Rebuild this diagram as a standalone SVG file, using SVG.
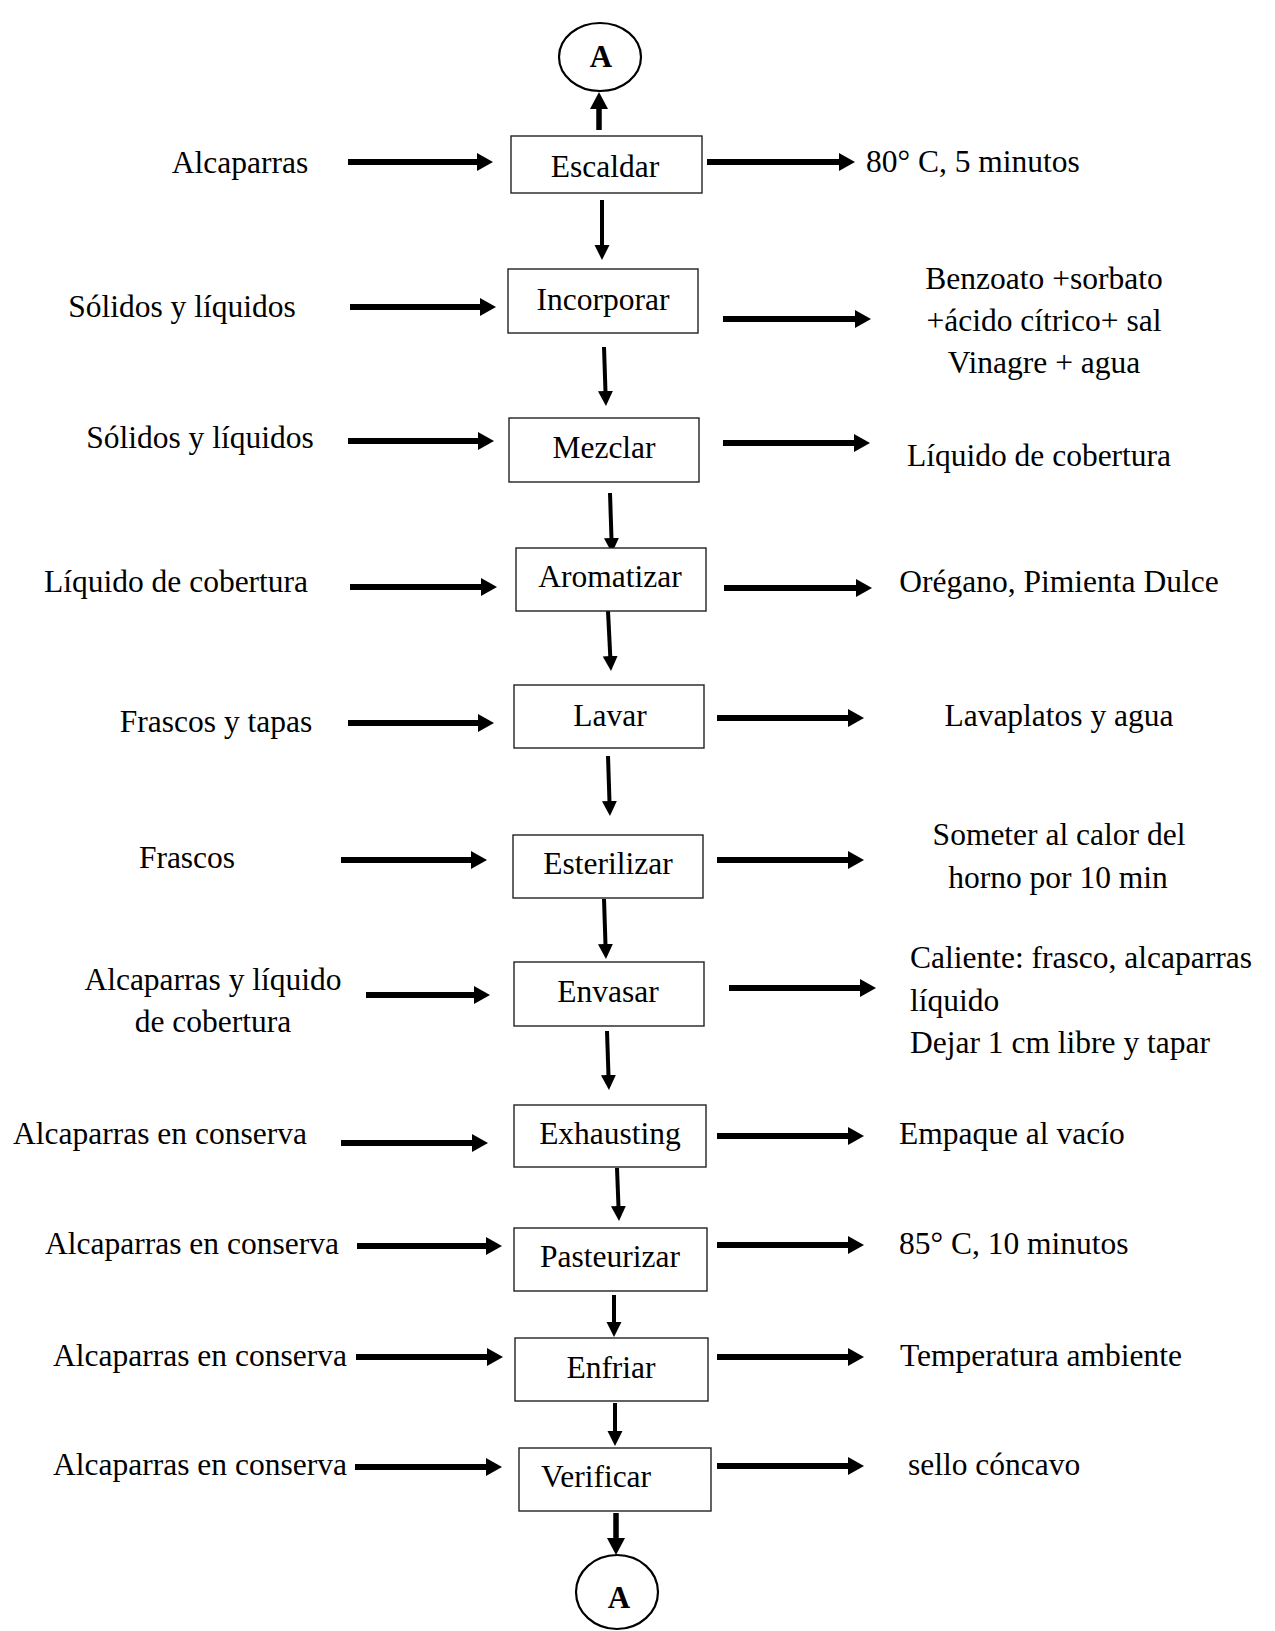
<svg xmlns="http://www.w3.org/2000/svg" width="1275" height="1631" viewBox="0 0 1275 1631">
<defs>
<style>
text{font-family:"Liberation Serif","Times New Roman",serif;font-size:31.5px;fill:#000}
.m{text-anchor:middle}
.box{fill:#fff;stroke:#222;stroke-width:1.4}
.circ{fill:#fff;stroke:#000;stroke-width:2.2}
text.lbl{font-weight:bold;text-anchor:middle;font-size:31px}
.h{stroke:#000;stroke-width:6;fill:none;marker-end:url(#ah)}
.v{stroke:#000;stroke-width:4;fill:none;marker-end:url(#av)}
.vt{stroke:#000;stroke-width:5.5;fill:none;marker-end:url(#at)}
</style>
<marker id="ah" markerUnits="userSpaceOnUse" viewBox="0 -10 18 20" markerWidth="18" markerHeight="20" refX="1" refY="0" orient="auto"><path d="M0,-9 L16,0 L0,9 Z" fill="#000"/></marker>
<marker id="av" markerUnits="userSpaceOnUse" viewBox="0 -9 17 18" markerWidth="17" markerHeight="18" refX="1" refY="0" orient="auto"><path d="M0,-7.5 L15,0 L0,7.5 Z" fill="#000"/></marker>
<marker id="at" markerUnits="userSpaceOnUse" viewBox="0 -10 19 20" markerWidth="19" markerHeight="20" refX="1" refY="0" orient="auto"><path d="M0,-9 L17,0 L0,9 Z" fill="#000"/></marker>
</defs>
<rect width="1275" height="1631" fill="#fff"/>

<g id="connectors">
<!-- inputs -->
<line class="h" x1="348" y1="162" x2="478" y2="162"/>
<line class="h" x1="350" y1="307" x2="481" y2="307"/>
<line class="h" x1="348" y1="441" x2="479" y2="441"/>
<line class="h" x1="350" y1="587" x2="482" y2="587"/>
<line class="h" x1="348" y1="723" x2="479" y2="723"/>
<line class="h" x1="341" y1="860" x2="472" y2="860"/>
<line class="h" x1="366" y1="995" x2="475" y2="995"/>
<line class="h" x1="341" y1="1143" x2="473" y2="1143"/>
<line class="h" x1="357" y1="1246" x2="487" y2="1246"/>
<line class="h" x1="356" y1="1357" x2="488" y2="1357"/>
<line class="h" x1="355" y1="1467" x2="487" y2="1467"/>
<!-- outputs -->
<line class="h" x1="707" y1="162" x2="840" y2="162"/>
<line class="h" x1="723" y1="319" x2="856" y2="319"/>
<line class="h" x1="723" y1="443" x2="855" y2="443"/>
<line class="h" x1="724" y1="588" x2="857" y2="588"/>
<line class="h" x1="717" y1="718" x2="849" y2="718"/>
<line class="h" x1="717" y1="860" x2="849" y2="860"/>
<line class="h" x1="729" y1="988" x2="861" y2="988"/>
<line class="h" x1="717" y1="1136" x2="849" y2="1136"/>
<line class="h" x1="717" y1="1245" x2="849" y2="1245"/>
<line class="h" x1="717" y1="1357" x2="849" y2="1357"/>
<line class="h" x1="717" y1="1466" x2="849" y2="1466"/>
<!-- flow -->
<line class="vt" x1="599" y1="130" x2="599" y2="108"/>
<line class="v" x1="602" y1="200" x2="602" y2="246"/>
<line class="v" x1="604" y1="347" x2="605.5" y2="392"/>
<line class="v" x1="610" y1="493" x2="611.5" y2="539"/>
<line class="v" x1="608" y1="611" x2="610.3" y2="657"/>
<line class="v" x1="608" y1="756" x2="609.5" y2="802"/>
<line class="v" x1="604" y1="899" x2="605.5" y2="945"/>
<line class="v" x1="607" y1="1031" x2="608.5" y2="1076"/>
<line class="v" x1="617" y1="1168" x2="618.5" y2="1207"/>
<line class="v" x1="614" y1="1295" x2="614" y2="1323"/>
<line class="v" x1="615" y1="1403" x2="615" y2="1432"/>
<line class="vt" x1="616" y1="1513" x2="616" y2="1539"/>
</g>

<g id="node-A-top"><ellipse class="circ" cx="600" cy="57" rx="41" ry="34"/><text class="lbl" x="601" y="67">A</text></g>
<g id="node-escaldar"><rect class="box" x="511" y="136" width="191" height="57"/><text class="m" x="605" y="177">Escaldar</text></g>
<g id="node-incorporar"><rect class="box" x="508" y="269" width="190" height="64"/><text class="m" x="603" y="310">Incorporar</text></g>
<g id="node-mezclar"><rect class="box" x="509" y="418" width="190" height="64"/><text class="m" x="604" y="458">Mezclar</text></g>
<g id="node-aromatizar"><rect class="box" x="516" y="548" width="190" height="63"/><text class="m" x="610" y="587">Aromatizar</text></g>
<g id="node-lavar"><rect class="box" x="514" y="685" width="190" height="63"/><text class="m" x="610" y="726">Lavar</text></g>
<g id="node-esterilizar"><rect class="box" x="513" y="835" width="190" height="63"/><text class="m" x="608" y="874">Esterilizar</text></g>
<g id="node-envasar"><rect class="box" x="514" y="962" width="190" height="64"/><text class="m" x="608" y="1002">Envasar</text></g>
<g id="node-exhausting"><rect class="box" x="514" y="1105" width="192" height="62"/><text class="m" x="610" y="1144">Exhausting</text></g>
<g id="node-pasteurizar"><rect class="box" x="514" y="1228" width="193" height="63"/><text class="m" x="610" y="1267">Pasteurizar</text></g>
<g id="node-enfriar"><rect class="box" x="515" y="1338" width="193" height="63"/><text class="m" x="611" y="1378">Enfriar</text></g>
<g id="node-verificar"><rect class="box" x="519" y="1448" width="192" height="63"/><text class="m" x="596" y="1487">Verificar</text></g>
<g id="node-A-bottom"><ellipse class="circ" cx="617" cy="1592" rx="41" ry="37"/><text class="lbl" x="619" y="1608">A</text></g>

<g id="inputs">
<text class="m" x="240" y="173">Alcaparras</text>
<text class="m" x="182" y="317">Sólidos y líquidos</text>
<text class="m" x="200" y="448">Sólidos y líquidos</text>
<text class="m" x="176" y="592">Líquido de cobertura</text>
<text class="m" x="216" y="732">Frascos y tapas</text>
<text class="m" x="187" y="868">Frascos</text>
<text class="m" x="213" y="990">Alcaparras y líquido</text>
<text class="m" x="213" y="1032">de cobertura</text>
<text class="m" x="160" y="1144">Alcaparras en conserva</text>
<text class="m" x="192" y="1254">Alcaparras en conserva</text>
<text class="m" x="200" y="1366">Alcaparras en conserva</text>
<text class="m" x="200" y="1475">Alcaparras en conserva</text>
</g>

<g id="outputs">
<text x="866" y="172">80° C, 5 minutos</text>
<text class="m" x="1044" y="289">Benzoato +sorbato</text>
<text class="m" x="1044" y="331">+ácido cítrico+ sal</text>
<text class="m" x="1044" y="373">Vinagre + agua</text>
<text class="m" x="1039" y="466">Líquido de cobertura</text>
<text class="m" x="1059" y="592">Orégano, Pimienta Dulce</text>
<text class="m" x="1059" y="726">Lavaplatos y agua</text>
<text class="m" x="1059" y="845">Someter al calor del</text>
<text class="m" x="1058" y="888">horno por 10 min</text>
<text x="910" y="968">Caliente: frasco, alcaparras</text>
<text x="910" y="1011">líquido</text>
<text x="910" y="1053">Dejar 1 cm libre y tapar</text>
<text x="899" y="1144">Empaque al vacío</text>
<text x="899" y="1254">85° C, 10 minutos</text>
<text x="900" y="1366">Temperatura ambiente</text>
<text x="908" y="1475">sello cóncavo</text>
</g>
</svg>
